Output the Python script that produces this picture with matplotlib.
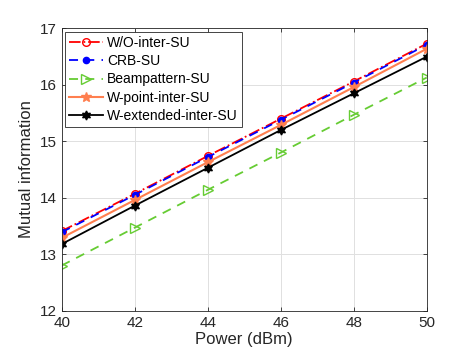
import matplotlib.pyplot as plt
import numpy as np

# Prepare Data
power = [40, 42, 44, 46, 48, 50]
wo_inter = [13.41, 14.07, 14.74, 15.40, 16.06, 16.73]
crb = [13.39, 14.05, 14.72, 15.38, 16.04, 16.71]
beampattern = [12.80, 13.47, 14.14, 14.80, 15.47, 16.13]
w_point = [13.29, 13.96, 14.63, 15.29, 15.96, 16.64]
w_extended = [13.18, 13.86, 14.53, 15.20, 15.85, 16.50]

plt.rcParams["font.family"] = ["Liberation Sans", "DejaVu Sans"]

fig = plt.figure(figsize=(4.71, 3.6), dpi=100)
ax = fig.add_axes([0.131, 0.137, 0.775, 0.784])

ax.plot(power, wo_inter, color="red", linestyle="-.", marker="o",
        markerfacecolor="none", markersize=5.5, linewidth=1.3, label="W/O-inter-SU")
ax.plot(power, crb, color="blue", linestyle=(0, (5, 4)), marker="o",
        markersize=4.5, linewidth=1.3, label="CRB-SU")
ax.plot(power, beampattern, color="#66cc33", linestyle=(0, (5, 4)), marker=">",
        markerfacecolor="none", markersize=6.5, linewidth=1.3, label="Beampattern-SU")
ax.plot(power, w_point, color="#ff7f4f", linestyle="-", marker="*",
        markersize=7.5, linewidth=1.5, label="W-point-inter-SU")
ax.plot(power, w_extended, color="black", linestyle="-", marker=(6, 1, 0),
        markersize=6.5, linewidth=1.3, label="W-extended-inter-SU")

# Decorations
ax.set_xlim(40, 50)
ax.set_ylim(12, 17)
ax.set_xticks(np.arange(40, 51, 2))
ax.set_yticks(np.arange(12, 18, 1))
ax.set_xlabel("Power (dBm)", fontsize=12, color="#262626", labelpad=2)
ax.set_ylabel("Mutual information", fontsize=12, color="#262626", labelpad=4)
ax.tick_params(direction="in", top=True, right=True, labelsize=11,
               colors="#262626", length=3, width=0.6)
ax.grid(True, color="#e0e0e0", linewidth=0.7)
for s in ax.spines.values():
    s.set_color("#262626")
    s.set_linewidth(0.6)

leg = ax.legend(loc="upper left", fontsize=10, handlelength=2.4,
                handletextpad=0.3, borderaxespad=0.25, borderpad=0.3,
                labelspacing=0.3, fancybox=False, framealpha=1)
leg.get_frame().set_edgecolor("#262626")
leg.get_frame().set_linewidth(0.6)

fig.savefig("out.png", dpi=100)
